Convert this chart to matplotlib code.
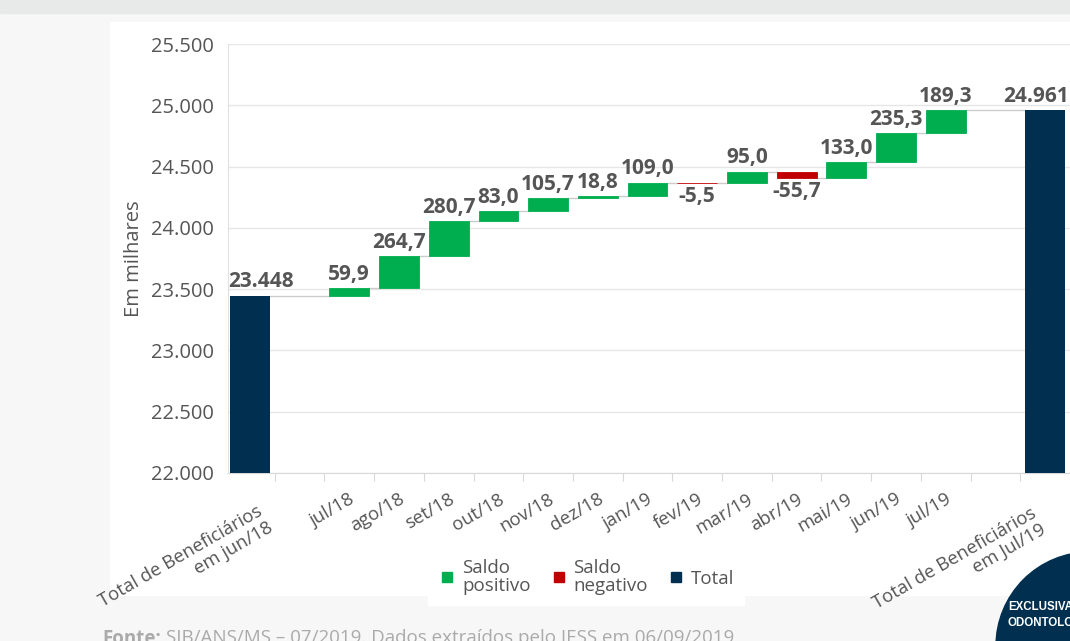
import matplotlib.pyplot as plt
from matplotlib.patches import Rectangle, Ellipse
from matplotlib.lines import Line2D

plt.rcParams['font.family'] = ['Open Sans', 'DejaVu Sans']

# data (milhares de beneficiários)
start_label = 'Total de Beneficiários\nem jun/18'
end_label = 'Total de Beneficiários\nem Jul/19'
months = ['jul/18', 'ago/18', 'set/18', 'out/18', 'nov/18', 'dez/18', 'jan/19',
          'fev/19', 'mar/19', 'abr/19', 'mai/19', 'jun/19', 'jul/19']
start_total = 23448
changes = [59.9, 264.7, 280.7, 83.0, 105.7, 18.8, 109.0, -5.5, 95.0, -55.7, 133.0, 235.3, 189.3]
end_total = 24961
yticks = [22000, 22500, 23000, 23500, 24000, 24500, 25000, 25500]

green = '#00ae4f'
red = '#c00000'
navy = '#002f50'
txt = '#555555'

def fmt_dec(v):
    return f'{v:.1f}'.replace('.', ',')

def fmt_int(v):
    return f'{v:,.0f}'.replace(',', '.')

fig = plt.figure(figsize=(10.7, 6.41), dpi=100)
fig.patch.set_facecolor('#f7f7f7')

# page decoration
fig.add_artist(Rectangle((0, 1 - 13 / 641), 1, 13 / 641, transform=fig.transFigure,
                         color='#e8e9e9', zorder=-10))
fig.add_artist(Rectangle((110 / 1070, 1 - 595 / 641), 1, (595 - 22) / 641,
                         transform=fig.transFigure, color='white', zorder=-10))

ax = fig.add_axes([228 / 1070, 1 - 473 / 641, (1070 - 228) / 1070, (473 - 44) / 641])
ax.set_facecolor('none')

pos_start = 0
pos_months = list(range(2, 2 + len(months)))
pos_end = pos_months[-1] + 2
w = 0.8
xmin, xmax = -0.44, 16.5
lab_kw = dict(fontsize=15, fontweight='bold', color=txt, zorder=5)

# totals (labels kept inside the plot area)
ax.bar(pos_start, start_total, width=w, color=navy, zorder=3)
ax.bar(pos_end, end_total, width=w, color=navy, zorder=3)
ax.text(xmin, start_total + 25, fmt_int(start_total), ha='left', va='bottom', **lab_kw)
ax.text(xmax - 0.02, end_total + 25, fmt_int(end_total), ha='right', va='bottom', **lab_kw)

level = start_total
prev_x = pos_start
for x, d in zip(pos_months, changes):
    ax.plot([prev_x + w / 2, x - w / 2], [level, level], color='#cccccc', lw=1, zorder=2)
    col = green if d >= 0 else red
    ax.bar(x, d, bottom=level, width=w, color=col, edgecolor=col, lw=0.6, zorder=3)
    new = level + d
    if d >= 0:
        ax.text(x, new + 25, fmt_dec(d), ha='center', va='bottom', **lab_kw)
    else:
        ax.text(x, new - 25, fmt_dec(d), ha='center', va='top', **lab_kw)
    level = new
    prev_x = x
ax.plot([prev_x + w / 2, pos_end - w / 2], [level, level], color='#cccccc', lw=1, zorder=2)

ax.set_ylim(22000, 25500)
ax.set_xlim(xmin, xmax)
ax.set_yticks(yticks)
ax.set_yticklabels([fmt_int(v) for v in yticks], fontsize=14.5, color=txt)
ax.tick_params(axis='y', length=0, pad=10)
ax.grid(axis='y', color='#e6e6e6', lw=1, zorder=0)
ax.set_axisbelow(True)

ax.set_xticks([i + 0.5 for i in range(16)])
ax.set_xticklabels([])
ax.tick_params(axis='x', which='major', length=6, color='#d8d8d8')

# category labels, rotated
xlabels = [start_label] + months + [end_label]
xpos = [pos_start] + pos_months + [pos_end]
offsets = [(7, -29)] + [(0, -17)] * len(months) + [(-15, -31)]
for p, lab, (dx, dy) in zip(xpos, xlabels, offsets):
    ax.annotate(lab, xy=(p, 0), xycoords=ax.get_xaxis_transform(),
                xytext=(dx, dy), textcoords='offset pixels',
                rotation=30, ha='right', va='top', rotation_mode='anchor',
                fontsize=13.3, color=txt, multialignment='right', linespacing=1.1,
                annotation_clip=False)

for s in ['top', 'right']:
    ax.spines[s].set_visible(False)
ax.spines['left'].set_color('#e0e0e0')
ax.spines['bottom'].set_color('#d8d8d8')

ax.set_ylabel('Em milhares', fontsize=14.5, color=txt, labelpad=5)

handles = [Line2D([], [], marker='s', ls='', color=green, markersize=6.5),
           Line2D([], [], marker='s', ls='', color=red, markersize=6.5),
           Line2D([], [], marker='s', ls='', color=navy, markersize=6.5)]
leg = fig.legend(handles, ['Saldo\npositivo', 'Saldo\nnegativo', 'Total'], ncol=3,
                 loc='center', bbox_to_anchor=(586 / 1070, 1 - 577 / 641),
                 frameon=True, fancybox=False, facecolor='white', edgecolor='white',
                 framealpha=1, fontsize=13.5, handletextpad=0.3, handlelength=1.0,
                 columnspacing=1.0, borderpad=0.5)
for t in leg.get_texts():
    t.set_color(txt)
    t.set_linespacing(1.05)

# footer and badge
fig.text(102 / 1070, 1 - 629 / 641, 'Fonte:', fontsize=13.5, fontweight='bold',
         color='#aaaaaa', va='top')
fig.text(166 / 1070, 1 - 629 / 641, 'SIB/ANS/MS – 07/2019. Dados extraídos pelo IESS em 06/09/2019',
         fontsize=13.5, color='#aaaaaa', va='top')
fig.add_artist(Ellipse((1090 / 1070, 1 - 646 / 641), 2 * 94 / 1070, 2 * 94 / 641,
                       transform=fig.transFigure, color=navy, zorder=10))
fig.text(1008 / 1070, 1 - 607 / 641, 'EXCLUSIVA', fontsize=8.3, fontweight='bold',
         color='white', va='center', family='Liberation Sans', zorder=11)
fig.text(1007 / 1070, 1 - 623 / 641, 'ODONTOLOGIA', fontsize=8.3, fontweight='bold',
         color='white', va='center', family='Liberation Sans', zorder=11)

fig.savefig('out.png', dpi=100, facecolor=fig.get_facecolor())
